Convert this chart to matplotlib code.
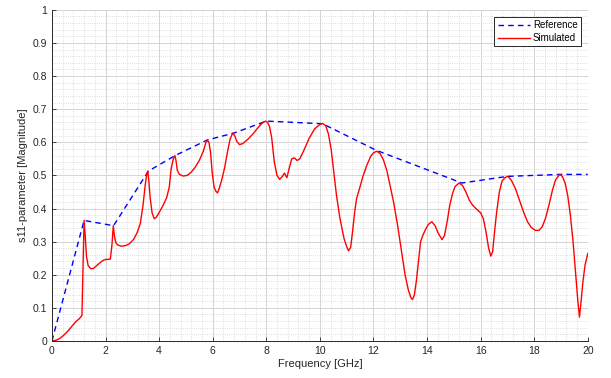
import matplotlib
matplotlib.use('Agg')
import matplotlib.pyplot as plt
from matplotlib.ticker import MultipleLocator, FormatStrFormatter

# reference envelope (blue dashed)
ref_freq = [0, 1.2, 2.3, 3.6, 4.6, 5.8, 6.8, 8.0, 10.1, 12.1, 15.3, 17.0, 19.0, 20.0]
ref_mag = [0, 0.364, 0.348, 0.513, 0.56, 0.607, 0.628, 0.664, 0.656, 0.576, 0.477, 0.497, 0.503, 0.503]

# simulated s11 (red)
sim_freq = [0.0, 0.15, 0.3, 0.45, 0.6, 0.75, 0.9, 1.02, 1.12, 1.17, 1.2, 1.24, 1.29, 1.35, 1.45,
            1.55, 1.73, 1.9, 2.0, 2.18, 2.24, 2.29, 2.33, 2.38, 2.45, 2.6, 2.75, 2.9, 3.05, 3.18,
            3.3, 3.4, 3.48, 3.54, 3.58, 3.62, 3.67, 3.74, 3.82, 3.9, 4.03, 4.15, 4.28, 4.38, 4.45,
            4.53, 4.59, 4.63, 4.68, 4.76, 4.9, 5.05, 5.2, 5.35, 5.5, 5.65, 5.75, 5.8, 5.86, 5.92,
            5.98, 6.05, 6.12, 6.18, 6.25, 6.35, 6.45, 6.55, 6.65, 6.75, 6.82, 6.9, 7.0, 7.12, 7.3,
            7.5, 7.7, 7.85, 7.97, 8.05, 8.12, 8.2, 8.3, 8.4, 8.5, 8.6, 8.68, 8.72, 8.77, 8.85,
            8.95, 9.05, 9.15, 9.25, 9.4, 9.6, 9.8, 10.0, 10.1, 10.22, 10.32, 10.42, 10.52, 10.62,
            10.75, 10.9, 11.0, 11.07, 11.15, 11.22, 11.3, 11.37, 11.47, 11.6, 11.75, 11.9, 12.0,
            12.12, 12.25, 12.38, 12.5, 12.62, 12.75, 12.9, 13.05, 13.18, 13.3, 13.4, 13.46, 13.53,
            13.6, 13.68, 13.76, 13.85, 13.95, 14.05, 14.18, 14.3, 14.42, 14.56, 14.65, 14.75,
            14.85, 14.95, 15.05, 15.2, 15.32, 15.45, 15.58, 15.7, 15.85, 16.0, 16.1, 16.2, 16.3,
            16.38, 16.45, 16.52, 16.6, 16.7, 16.8, 16.92, 17.02, 17.15, 17.3, 17.45, 17.6, 17.75,
            17.9, 18.05, 18.18, 18.3, 18.42, 18.55, 18.68, 18.8, 18.95, 19.05, 19.15, 19.25,
            19.35, 19.45, 19.55, 19.63, 19.69, 19.75, 19.82, 19.9, 20.0]
sim_mag = [0.0, 0.002, 0.008, 0.018, 0.03, 0.045, 0.059, 0.067, 0.077, 0.25, 0.364, 0.32, 0.255,
           0.228, 0.218, 0.219, 0.232, 0.243, 0.246, 0.247, 0.29, 0.348, 0.318, 0.298, 0.29,
           0.286, 0.288, 0.294, 0.307, 0.327, 0.355, 0.41, 0.47, 0.505, 0.513, 0.48, 0.43, 0.386,
           0.369, 0.374, 0.392, 0.41, 0.432, 0.465, 0.52, 0.55, 0.56, 0.545, 0.515, 0.503, 0.498,
           0.5, 0.51, 0.525, 0.545, 0.573, 0.6, 0.606, 0.6, 0.57, 0.51, 0.465, 0.452, 0.447,
           0.462, 0.49, 0.525, 0.57, 0.61, 0.628, 0.62, 0.603, 0.593, 0.596, 0.608, 0.625, 0.645,
           0.658, 0.664, 0.66, 0.648, 0.615, 0.54, 0.5, 0.488, 0.497, 0.507, 0.5, 0.493, 0.52,
           0.55, 0.553, 0.545, 0.55, 0.575, 0.612, 0.64, 0.654, 0.657, 0.65, 0.625, 0.58, 0.51,
           0.44, 0.37, 0.31, 0.285, 0.272, 0.283, 0.33, 0.39, 0.43, 0.457, 0.495, 0.53, 0.558,
           0.568, 0.573, 0.566, 0.545, 0.515, 0.47, 0.42, 0.35, 0.27, 0.2, 0.155, 0.13, 0.125,
           0.14, 0.18, 0.24, 0.3, 0.32, 0.338, 0.352, 0.36, 0.348, 0.325, 0.306, 0.318, 0.36,
           0.41, 0.445, 0.467, 0.477, 0.47, 0.45, 0.425, 0.41, 0.398, 0.387, 0.37, 0.33, 0.28,
           0.256, 0.27, 0.33, 0.39, 0.45, 0.483, 0.494, 0.497, 0.485, 0.46, 0.425, 0.39, 0.36,
           0.342, 0.334, 0.334, 0.345, 0.37, 0.41, 0.455, 0.487, 0.503, 0.497, 0.478, 0.44, 0.38,
           0.3, 0.2, 0.12, 0.072, 0.12, 0.18, 0.23, 0.264]

plt.rcParams['font.family'] = ['Liberation Sans', 'DejaVu Sans']
fig = plt.figure(figsize=(6.11, 3.78), dpi=100)
ax = fig.add_axes([0.085, 0.098, 0.877, 0.876])

ax.plot(ref_freq, ref_mag, color='blue', linestyle='--', linewidth=1.0, dashes=(4, 3), label='Reference')
ax.plot(sim_freq, sim_mag, color='red', linewidth=1.0, label='Simulated')

ax.set_xlim(0, 20)
ax.set_ylim(0, 1)
ax.xaxis.set_major_locator(MultipleLocator(2))
ax.xaxis.set_minor_locator(MultipleLocator(0.4))
ax.yaxis.set_major_locator(MultipleLocator(0.1))
ax.yaxis.set_minor_locator(MultipleLocator(0.02))
ax.yaxis.set_major_formatter(FormatStrFormatter('%g'))

# matlab-ish grid
ax.grid(which='major', color='#d4d4d4', linewidth=0.7)
ax.grid(which='minor', color='#d4d4d4', linestyle=':', linewidth=0.6)
ax.set_axisbelow(True)

for s in ['top', 'right']:
    ax.spines[s].set_visible(False)
for s in ['left', 'bottom']:
    ax.spines[s].set_color('#262626')
    ax.spines[s].set_linewidth(0.7)
ax.tick_params(which='major', direction='in', length=3, width=0.6, colors='#262626', labelsize=7.5)
ax.tick_params(which='minor', direction='in', length=0)

ax.set_xlabel('Frequency [GHz]', fontsize=8, color='#262626', labelpad=2)
ax.set_ylabel('s11-parameter [Magnitude]', fontsize=8, color='#262626', labelpad=3)

leg = ax.legend(loc='upper right', fontsize=7, fancybox=False, framealpha=1,
                edgecolor='#262626', borderpad=0.35, handlelength=3.3, handletextpad=0.3,
                labelspacing=0.3, borderaxespad=0.7)
leg.get_frame().set_linewidth(0.7)

plt.savefig('out.png', dpi=100)
